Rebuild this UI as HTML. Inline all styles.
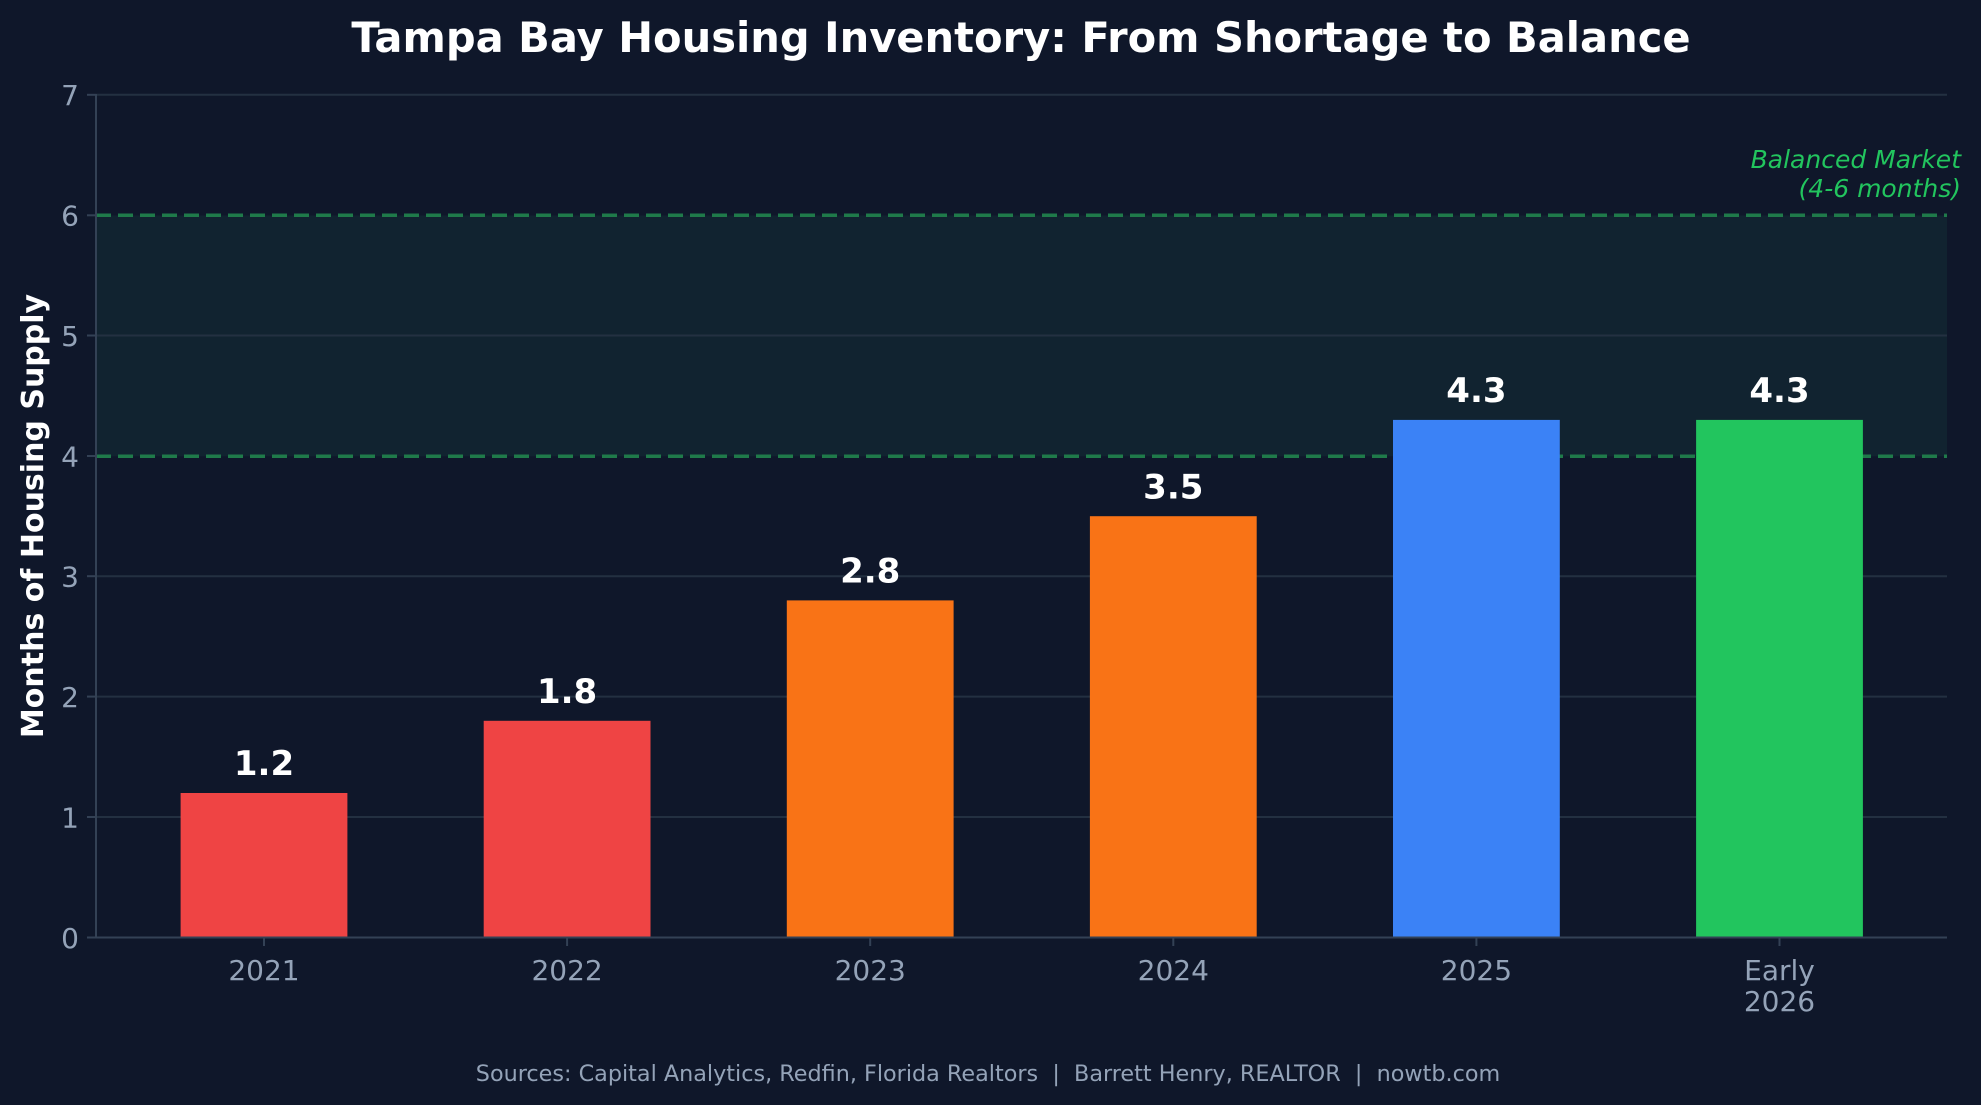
<!DOCTYPE html>
<html><head><meta charset="utf-8"><style>
html,body{margin:0;padding:0;background:#0f172a;}
svg{display:block;font-family:"DejaVu Sans","Liberation Sans",sans-serif;}
</style></head><body>
<svg width="1981" height="1105" viewBox="0 0 1981 1105" xmlns="http://www.w3.org/2000/svg">
<rect width="1981" height="1105" fill="#0f172a"/>
<text x="1021" y="52" text-anchor="middle" font-size="41.6" font-weight="bold" fill="#ffffff">Tampa Bay Housing Inventory: From Shortage to Balance</text>
<rect x="96" y="215.5" width="1851" height="240.8" fill="#112330"/>
<g stroke="#233041" stroke-width="2">
<line x1="96" x2="1947" y1="94.8" y2="94.8"/>
<line x1="96" x2="1947" y1="335.5" y2="335.5"/>
<line x1="96" x2="1947" y1="576.2" y2="576.2"/>
<line x1="96" x2="1947" y1="696.6" y2="696.6"/>
<line x1="96" x2="1947" y1="817" y2="817"/>
</g>
<g stroke="#1f7a4a" stroke-width="3.5" stroke-dasharray="15,7">
<line x1="96" x2="1947" y1="215.3" y2="215.3"/>
<line x1="96" x2="1947" y1="456.3" y2="456.3"/>
</g>
<rect x="180.6" y="793" width="166.8" height="144.5" fill="#ef4444"/>
<rect x="483.7" y="720.8" width="166.8" height="216.7" fill="#ef4444"/>
<rect x="786.8" y="600.4" width="166.8" height="337.1" fill="#f97316"/>
<rect x="1089.9" y="516.2" width="166.8" height="421.3" fill="#f97316"/>
<rect x="1393" y="419.9" width="166.8" height="517.6" fill="#3b82f6"/>
<rect x="1696.1" y="419.9" width="166.8" height="517.6" fill="#22c55e"/>
<g font-size="34" font-weight="bold" fill="#ffffff" text-anchor="middle">
<text x="264" y="775">1.2</text>
<text x="567.1" y="703">1.8</text>
<text x="870.2" y="582.5">2.8</text>
<text x="1173.3" y="498.5">3.5</text>
<text x="1476.4" y="402">4.3</text>
<text x="1779.5" y="402">4.3</text>
</g>
<g stroke="#334155" stroke-width="2">
<line x1="96" x2="96" y1="94" y2="938"/>
<line x1="96" x2="1947" y1="937.5" y2="937.5"/>
<line x1="87" x2="96" y1="94.8" y2="94.8"/>
<line x1="87" x2="96" y1="215.3" y2="215.3"/>
<line x1="87" x2="96" y1="335.5" y2="335.5"/>
<line x1="87" x2="96" y1="456" y2="456"/>
<line x1="87" x2="96" y1="576.2" y2="576.2"/>
<line x1="87" x2="96" y1="696.6" y2="696.6"/>
<line x1="87" x2="96" y1="817" y2="817"/>
<line x1="87" x2="96" y1="937.5" y2="937.5"/>
<line x1="264" x2="264" y1="937.5" y2="946"/>
<line x1="567.1" x2="567.1" y1="937.5" y2="946"/>
<line x1="870.2" x2="870.2" y1="937.5" y2="946"/>
<line x1="1173.3" x2="1173.3" y1="937.5" y2="946"/>
<line x1="1476.4" x2="1476.4" y1="937.5" y2="946"/>
<line x1="1779.5" x2="1779.5" y1="937.5" y2="946"/>
</g>
<g font-size="28" fill="#94a3b8" text-anchor="end">
<text x="79" y="105">7</text>
<text x="79" y="225.5">6</text>
<text x="79" y="346">5</text>
<text x="79" y="466.5">4</text>
<text x="79" y="586.5">3</text>
<text x="79" y="707">2</text>
<text x="79" y="827.5">1</text>
<text x="79" y="948">0</text>
</g>
<g font-size="28" fill="#94a3b8" text-anchor="middle">
<text x="264" y="980">2021</text>
<text x="567.1" y="980">2022</text>
<text x="870.2" y="980">2023</text>
<text x="1173.3" y="980">2024</text>
<text x="1476.4" y="980">2025</text>
<text x="1779.5" y="980">Early</text>
<text x="1779.5" y="1011">2026</text>
</g>
<text transform="translate(43,516) rotate(-90)" text-anchor="middle" font-size="30" font-weight="bold" fill="#ffffff">Months of Housing Supply</text>
<g font-size="25" font-style="italic" fill="#22c55e" text-anchor="end">
<text x="1961" y="168">Balanced Market</text>
<text x="1961" y="197">(4-6 months)</text>
</g>
<text x="988" y="1081" text-anchor="middle" font-size="22.3" fill="#94a3b8" xml:space="preserve" style="white-space:pre">Sources: Capital Analytics, Redfin, Florida Realtors  |  Barrett Henry, REALTOR  |  nowtb.com</text>
</svg>
</body></html>
